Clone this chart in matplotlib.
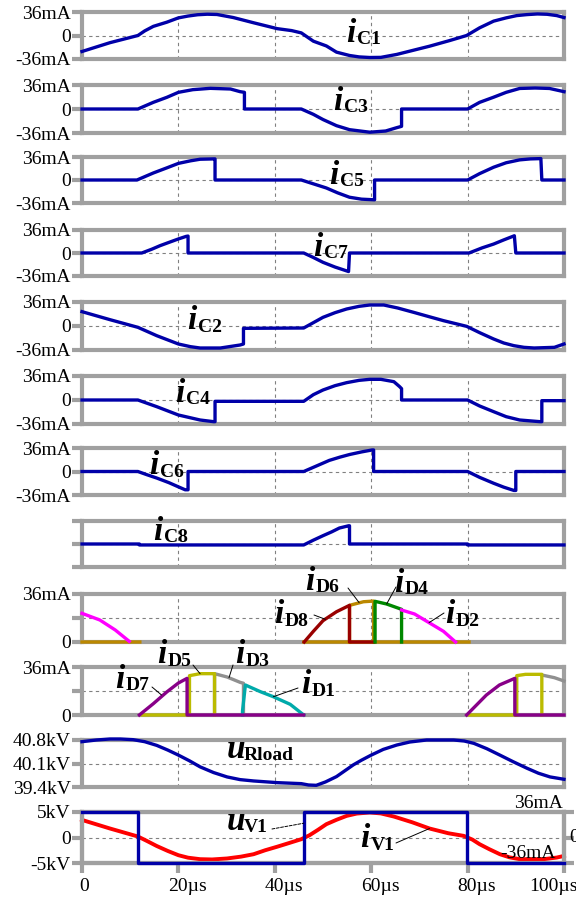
import matplotlib.pyplot as plt
from matplotlib.transforms import ScaledTranslation

plt.rcParams['font.family'] = ['Liberation Serif', 'DejaVu Serif']

W, H = 576, 900
GRAY = '#a0a0a0'
BLUE = '#0000a8'
nan = float('nan')

# ---- capacitor currents: time in us, current in mA ----
t_c1 = [0, 5.8, 11.6, 13, 14.8, 17.6, 20, 22, 24, 26, 28, 31.4, 35.6, 40.5, 43.5, 45.5, 48, 50.7,
        52.8, 55.5, 57.5, 59.7, 62, 65.3, 68.8, 72.1, 76.3, 79.8, 82.5, 85.4, 88, 90.2, 92.3, 94.5,
        96.5, 98.5, 100]
i_c1 = [-24.5, -11, 0, 7, 14, 20.4, 27, 29.8, 31.8, 32.6, 32.2, 27.5, 19.5, 10.5, 7.5, 4, -8.7, -16,
        -25.5, -30.6, -32.8, -33.7, -33.5, -29, -22.5, -16.4, -7.7, 0, 11.8, 22, 27, 30.5, 32, 33,
        32.5, 30.5, 27.5]

t_c3 = [0, 11.6, 14.8, 17.6, 20, 23, 26.6, 30.8, 32.8, 33.7, 33.7, 45.5, 48, 50, 52.8, 55.5, 59.7,
        63, 65.3, 66.3, 66.3, 80, 82.5, 85.4, 88, 90.8, 94, 97, 100]
i_c3 = [0, 0, 10, 17.5, 25, 29, 31, 30, 26, 25, 0, 0, -8, -15.8, -25, -31, -34.8,
        -33, -28, -26, 0, 0, 10, 17.7, 25, 30.8, 31.5, 30.8, 26]

t_c5 = [0, 11.4, 14.8, 17.6, 20, 22.5, 24.5, 27.3, 27.6, 27.6, 45.5, 48, 50.7, 53, 55.5, 58, 60.7,
        60.7, 80, 82.5, 85.4, 88, 90.8, 93, 95.2, 95.4, 100]
i_c5 = [0, 0, 11, 19, 26, 30, 32.5, 33, 33, 0, 0, -6, -12.5, -20, -27, -30, -31,
        0, 0, 10, 20, 27, 31.5, 33, 33.5, 0, 0]

t_c7 = [0, 12.4, 14.5, 16.2, 18, 20, 21.6, 22, 22, 46, 48, 50, 52.5, 55.3, 55.5, 80.3, 83, 85.4,
        87.5, 89.7, 90, 100]
i_c7 = [0, 0, 6, 11.5, 16.5, 22, 26, 26.5, 0, 0, -7, -14.6, -22, -29, 0, 0, 8, 14,
        20.5, 27, 0, 0]

t_c2 = [0, 5.8, 11.6, 15.5, 20, 22.5, 24.5, 28.7, 32.8, 33.5, 33.5, 46, 48, 50, 52.5, 54.9, 57.5,
        59.7, 62.6, 65.5, 68.8, 72, 75, 79.8, 82.5, 85.4, 87.5, 89.6, 91.7, 93.8, 98, 100]
i_c2 = [21.5, 9.5, -2, -14.5, -27, -31, -33, -33, -28.5, -27, -3.5, -3, 5, 13, 20, 25.5, 29.5,
        31.5, 31.5, 27, 20.5, 14, 8, -0.5, -10, -19.5, -25.5, -29.5, -32, -33, -32, -27]

t_c4 = [0, 11.6, 15.5, 20, 24.5, 27.3, 27.6, 27.6, 46, 48, 50, 52.5, 54.9, 57.5, 59.7, 62, 64.7,
        65.9, 66.3, 66.3, 80, 82.5, 85.4, 88, 90.8, 95, 95.4, 95.4, 100]
i_c4 = [0, 0, -10, -22.5, -30, -32.5, -32.5, -2, -2, 8, 15, 21.5, 26, 29.5, 31, 31, 27.5,
        20, 17, 0, 0, -9, -17.5, -25, -30, -32.5, -32.5, -1, -1]

t_c6 = [0, 11.6, 13.5, 15.5, 18, 20, 21.4, 22, 22, 46, 48.5, 51.3, 53.5, 55.5, 58, 60.2, 60.5,
        60.5, 80, 82.5, 85.4, 87.5, 89.6, 90, 90, 100]
i_c6 = [0, 0, -5, -10, -17, -23.5, -28, -28, 0, 0, 8, 17, 22, 26, 30, 33, 33,
        0, 0, -9, -18, -24, -29, -29, 0, 0]

t_c8 = [0, 11.9, 11.9, 46, 48, 50, 51.8, 53.4, 55.3, 55.5, 55.5, 80, 80, 100]
i_c8 = [0, 0, -1.5, -1.5, 6, 13, 19, 25, 28.5, 28.5, 0, 0, -1.5, -1.5]

# ---- diode currents (mA), NaN splits separate conduction intervals ----
t_d2 = [0, 3.7, 6.9, 9.8, nan, 66.3, 69, 72, 75, 77.5]
i_d2 = [21.5, 16.5, 9, 0.5, nan, 24, 21, 14.5, 8, 0]
t_d6 = [0, 12, nan, 46, 80.3, nan, 55.5, 55.5, 58.4, 60.5, 60.5]
i_d6 = [0, 0, nan, 0, 0, nan, 0, 27.5, 30.2, 30.7, 0]
t_d8 = [46.1, 48, 50, 52.8, 55.5, 55.5, 60.5]
i_d8 = [0, 8, 16, 22.7, 27.5, 0, 0]
t_d4 = [60.8, 60.8, 63.2, 66.3, 66.3]
i_d4 = [0, 30.5, 28.5, 24.5, 0]

t_d3 = [27.5, 27.5, 30.1, 32.8, 33.5, 33.5, nan, 95.4, 98, 100]
i_d3 = [0, 31, 28.5, 24.5, 23.8, 0, nan, 30, 28, 25.5]
t_d1 = [33.3, 33.3, 33.9, 37, 39.7, 43.2, 46]
i_d1 = [0, 3, 22.5, 17.5, 13.7, 8, 0]
t_d5 = [12.5, 21.8, nan, 22.3, 22.3, 24.5, 27.3, 27.5, 27.5, nan, 80.3, 89.8, nan, 90.2, 90.2, 92,
        95.4, 95.4]
i_d5 = [0, 0, nan, 0, 29.5, 31, 31, 31, 0, nan, 0, 0, nan, 0, 29.5, 30.5, 30.5, 0]
t_d7 = [11.9, 14.8, 17.6, 20, 21.8, 21.8, 46, nan, 79.8, 83.9, 86.6, 89.8, 89.8, 100]
i_d7 = [0, 8.5, 17.3, 24, 27.5, 0, 0, nan, 0, 15, 22.5, 27.5, 0, 0]

# ---- load voltage (kV) ----
t_rl = [0, 3, 5.8, 8, 10.6, 13, 15.5, 17.8, 20, 22.3, 24.5, 27.3, 30.1, 32.8, 35.6, 40.5, 45.5,
        47, 48.6, 50.5, 52.8, 54.5, 56.3, 58, 60, 62.5, 65.3, 68, 71.5, 77.1, 79.3, 81.3, 84,
        86.7, 89.5, 92.3, 94.7, 97.1, 100]
u_rl = [40.75, 40.8, 40.83, 40.83, 40.81, 40.75, 40.64, 40.5, 40.35, 40.18, 40.0, 39.83, 39.7,
        39.62, 39.58, 39.53, 39.5, 39.46, 39.45, 39.55, 39.71, 39.88, 40.06, 40.2, 40.35, 40.52,
        40.65, 40.74, 40.8, 40.8, 40.77, 40.7, 40.54, 40.35, 40.15, 39.96, 39.81, 39.7, 39.63]

# ---- source voltage (kV) and source current (mA) ----
t_v1 = [0, 11.7, 11.7, 46, 46, 79.8, 79.8, 100]
u_v1 = [5, 5, -5, -5, 5, 5, -5, -5]
t_iv1 = [0, 5.8, 11.6, 13.5, 15.5, 17.8, 20, 22, 24.5, 27, 30.1, 33, 35.6, 38, 40.5, 42.4, 45.5,
         47.2, 49, 50.7, 52.8, 54.9, 57, 59.7, 62, 64.7, 68.5, 72.1, 76, 79.2, 81, 82.5, 84.5,
         86.7, 88.7, 90.8, 95.8, 98.5, 100]
i_iv1 = [24.8, 12.7, 1.4, -5, -12, -19, -25, -28.5, -30.6, -31, -29.6, -27, -23.6, -18, -13,
         -9, -2.4, 3.2, 11, 18.8, 25, 30.5, 33.8, 35.3, 34, 29.6, 21.5, 12.7, 6, 2.3, -3, -9.5,
         -16.5, -23.6, -28, -30.6, -30.6, -28.3, -26]

x_ticks = [0, 20, 40, 60, 80, 100]
x_labels = ['0', '20µs', '40µs', '60µs', '80µs', '100µs']

# panel frames: (top, bottom) in pixels
rows = [(12, 59), (85, 133), (157, 203), (230, 276), (302, 350), (376, 424),
        (448, 495), (521, 567), (594, 642), (667, 715), (740, 787), (812, 863)]

fig = plt.figure(figsize=(W / 100, H / 100), dpi=100)


def px(x, y):
    return x / W, 1 - y / H


def style_frame(ax):
    for s in ax.spines.values():
        s.set_color(GRAY)
        s.set_linewidth(3)


def panel(top, bottom, ylim, yticks, ylabels):
    ax = fig.add_axes([82 / W, 1 - bottom / H, 482 / W, (bottom - top) / H])
    ax.set_xlim(0, 100)
    ax.set_ylim(*ylim)
    ax.set_xticks(x_ticks)
    ax.set_yticks(yticks)
    ax.set_yticklabels(ylabels)
    ax.tick_params(axis='x', length=0, labelbottom=False)
    ax.tick_params(axis='y', length=7, width=3, color=GRAY, pad=1, labelsize=14)
    style_frame(ax)
    ax.grid(True, color='#808080', ls=(0, (3, 3)), lw=0.8)
    return ax


def curve(ax, t, v, color=BLUE, lw=2.4):
    ax.plot(t, v, color=color, lw=lw, clip_on=False, zorder=3, solid_joinstyle='round')


def name(x, y, main, sub, dx=11, dy=2.5):
    fig.text(*px(x, y), main, fontsize=24, fontweight='bold', fontstyle='italic',
             va='baseline', ha='left')
    fig.text(*px(x + dx, y + dy), sub, fontsize=14, fontweight='bold',
             va='baseline', ha='left')


def leader(ax, t, v, x, y, ls='-'):
    ax.annotate('', xy=(t, v), xycoords='data', xytext=px(x, y), textcoords='figure fraction',
                arrowprops=dict(arrowstyle='-', color='black', lw=0.7, ls=ls,
                                shrinkA=0, shrinkB=0), zorder=4)


ma_ticks = [-36, 0, 36]
ma_labels = ['-36mA', '0', '36mA']

c_waves = [(t_c1, i_c1), (t_c3, i_c3), (t_c5, i_c5), (t_c7, i_c7),
           (t_c2, i_c2), (t_c4, i_c4), (t_c6, i_c6), (t_c8, i_c8)]
c_names = [(346, 42, 'C1'), (333, 110, 'C3'), (329, 184, 'C5'), (313, 256, 'C7'),
           (187, 329, 'C2'), (175, 402, 'C4'), (149, 474, 'C6'), (153, 540, 'C8')]
for k, (t, v) in enumerate(c_waves):
    labels = ma_labels if k < 7 else ['', '', '']
    ax = panel(*rows[k], (-36, 36), ma_ticks, labels)
    curve(ax, t, v)
    x, y, sub = c_names[k]
    name(x, y, 'i', sub)

# diode currents, upper group
ax = panel(*rows[8], (0, 36), [0, 18, 36], ['0', '', '36mA'])
curve(ax, t_d6, i_d6, '#bb8800')
curve(ax, t_d8, i_d8, '#990000')
curve(ax, t_d4, i_d4, '#008800')
curve(ax, t_d2, i_d2, '#ff00ff')
name(305, 590, 'i', 'D6')
name(394, 592, 'i', 'D4')
name(274, 623, 'i', 'D8')
name(445, 623, 'i', 'D2')
leader(ax, 57.5, 29.5, 348, 588)
leader(ax, 63.2, 28.5, 396, 587)
leader(ax, 50.5, 17, 314, 615)
leader(ax, 72, 14.5, 444, 613)

# diode currents, lower group
ax = panel(*rows[9], (0, 36), [0, 18, 36], ['0', '', '36mA'])
curve(ax, t_d3, i_d3, '#909090')
curve(ax, t_d1, i_d1, '#00aaaa')
curve(ax, t_d5, i_d5, '#bbbb00')
curve(ax, t_d7, i_d7, '#880088')
name(115, 688, 'i', 'D7')
name(157, 663, 'i', 'D5')
name(235, 663, 'i', 'D3')
name(301, 693, 'i', 'D1')
leader(ax, 16.5, 15, 152, 687)
leader(ax, 24.5, 31, 193, 665)
leader(ax, 30.5, 28, 233, 665)
leader(ax, 39.7, 13.7, 298, 688)

# load voltage
ax = panel(*rows[10], (39.4, 40.8), [39.4, 40.1, 40.8], ['39.4kV', '40.1kV', '40.8kV'])
curve(ax, t_rl, u_rl)
name(227, 758, 'u', 'Rload', dx=17)

# source voltage (left scale) and source current (right scale)
ax = panel(*rows[11], (-5, 5), [-5, 0, 5], ['-5kV', '0', '5kV'])
ax.grid(False)
ax.set_xticklabels(x_labels)
ax.tick_params(axis='x', length=7, width=3, color=GRAY, pad=4, labelsize=14, labelbottom=True)
# numbers sit on the tick, the unit trails to the right; the last one is pulled inside
shifts = [-2, -10, -10, -10, -10, -35]
for lab, dx in zip(ax.get_xticklabels(), shifts):
    lab.set_ha('left' if dx != -2 else 'center')
    lab.set_transform(lab.get_transform() + ScaledTranslation(dx / 100 if dx != -2 else 0.02,
                                                              0, fig.dpi_scale_trans))
ax2 = ax.twinx()
ax2.set_ylim(-36, 36)
ax2.set_yticks(ma_ticks)
ax2.set_yticklabels(['', '', ''])
ax2.tick_params(axis='y', length=7, width=3, color=GRAY)
style_frame(ax2)
ax2.grid(True, axis='both', color='#808080', ls=(0, (3, 3)), lw=0.8)
ax2.set_xticks(x_ticks)
ax.set_zorder(ax2.get_zorder() + 1)
ax.patch.set_visible(False)
curve(ax2, t_iv1, i_iv1, '#ff0000', lw=2.8)
curve(ax, t_v1, u_v1)
name(227, 830, 'u', 'V1', dx=17)
name(360, 847, 'i', 'V1')
leader(ax, 46, 2.8, 272, 829, ls=(0, (3, 1.5)))
leader(ax2, 72.1, 12.7, 396, 843)
fig.text(*px(563, 803), '36mA', fontsize=14, ha='right', va='center')
fig.text(*px(556, 854), '-36mA', fontsize=14, ha='right', va='center')
fig.text(*px(569, 838), '0', fontsize=14, ha='left', va='center')

fig.savefig('out.png', dpi=100)
